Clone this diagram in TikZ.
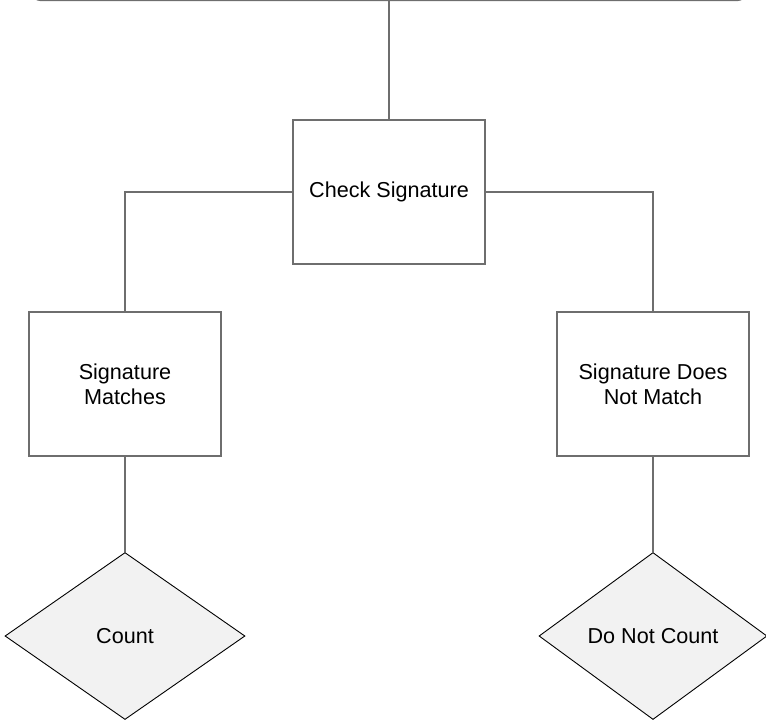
\documentclass[tikz,border=0pt]{standalone}
\usepackage{fontspec}
\setmainfont{Liberation Sans}
\usetikzlibrary{shapes.geometric}
\definecolor{linegray}{HTML}{6E6E6E}
\definecolor{diafill}{HTML}{F2F2F2}
\begin{document}
\begin{tikzpicture}[x=1pt,y=-1pt,
    font=\fontsize{21.6}{25}\selectfont,
    box/.style={draw=linegray,line width=1.3pt,minimum width=192pt,minimum height=144pt,align=center,inner sep=0pt},
    decide/.style={diamond,draw=black,line width=0.9pt,fill=diafill,minimum height=167pt,inner sep=0pt},
    link/.style={draw=linegray,line width=1.3pt}]
\useasboundingbox (0,0) rectangle (766,721);
\clip (0,0) rectangle (766,721);
\node[draw=linegray,line width=1.3pt,rounded corners=7pt,minimum width=712pt,minimum height=60pt,anchor=south] (start) at (389,1) {};
\node[box] (check) at (389,192) {Check Signature};
\node[box] (matches) at (125,384) {Signature\\Matches};
\node[box] (nomatch) at (653,384) {Signature Does\\Not Match};
\node[decide,minimum width=240pt] (count) at (125,636) {Count};
\node[decide,minimum width=228pt] (nocount) at (653,636) {Do Not Count};
\draw[link] (start.south) -- (check.north);
\draw[link] (check.west) -| (matches.north);
\draw[link] (check.east) -| (nomatch.north);
\draw[link] (matches.south) -- (count.north);
\draw[link] (nomatch.south) -- (nocount.north);
\end{tikzpicture}
\end{document}
